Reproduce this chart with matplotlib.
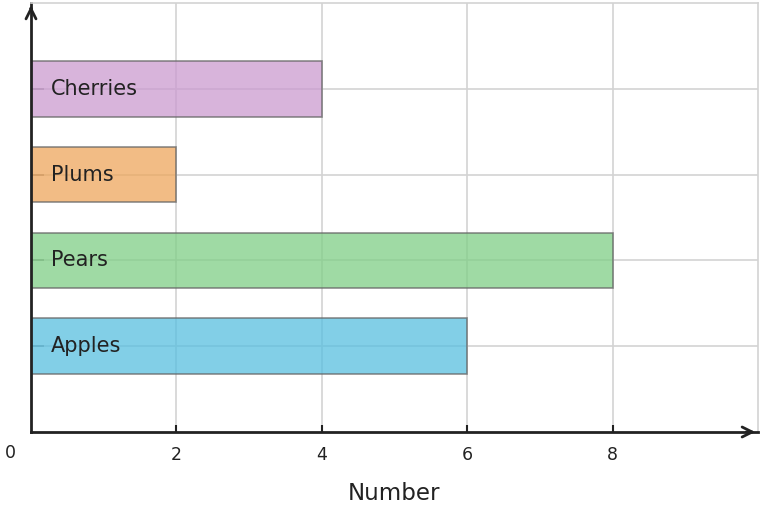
import matplotlib.pyplot as plt

fruits = ['Apples', 'Pears', 'Plums', 'Cherries']
counts = [6, 8, 2, 4]
colors = ['#58bfe0', '#7fce86', '#eea65c', '#cb9bd0']
x_ticks = [2, 4, 6, 8]

fig = plt.figure(figsize=(7.63, 5.08), dpi=100)
ax = fig.add_axes([31 / 763, 76 / 508, 727 / 763, 429 / 508])

ypos = list(range(len(fruits)))
ax.barh(ypos, counts, height=0.65, color=colors, alpha=0.75,
        edgecolor='#666666', linewidth=1.2, zorder=2)

ax.set_xlim(0, 10)
ax.set_ylim(-1, 4)
ax.set_xticks(x_ticks)
ax.set_yticks(ypos)
ax.set_yticklabels([])
ax.grid(True, color='#d3d3d3', linewidth=1.2, zorder=1)
ax.set_axisbelow(True)

ax.tick_params(axis='x', direction='in', length=5, width=1.5, color='#222222',
               labelsize=12.5, pad=10, labelcolor='#222222')
ax.tick_params(axis='y', direction='in', length=9, width=1.2, color='#888888')

# category names sit inside the bars
for y, name in zip(ypos, fruits):
    ax.text(20 / 727, y, name, transform=ax.get_yaxis_transform(),
            fontsize=15, color='#222222', ha='left', va='center', zorder=5)

for side in ['top', 'right']:
    ax.spines[side].set_color('#d3d3d3')
    ax.spines[side].set_linewidth(1.2)
for side in ['left', 'bottom']:
    ax.spines[side].set_color('#222222')
    ax.spines[side].set_linewidth(2)

# arrow heads on the axes
ax.annotate('', xy=(1.0, 0), xytext=(0.98, 0), xycoords='axes fraction',
            arrowprops=dict(arrowstyle='->', color='#222222', lw=2,
                            mutation_scale=18))
ax.annotate('', xy=(0, 1.0), xytext=(0, 0.98), xycoords='axes fraction',
            arrowprops=dict(arrowstyle='->', color='#222222', lw=2,
                            mutation_scale=18))

ax.text(-0.029, -0.049, '0', transform=ax.transAxes, fontsize=12.5,
        color='#222222', ha='center', va='center')
ax.set_xlabel('Number', fontsize=16.5, color='#222222', labelpad=13)

fig.savefig('out.png', dpi=100)
